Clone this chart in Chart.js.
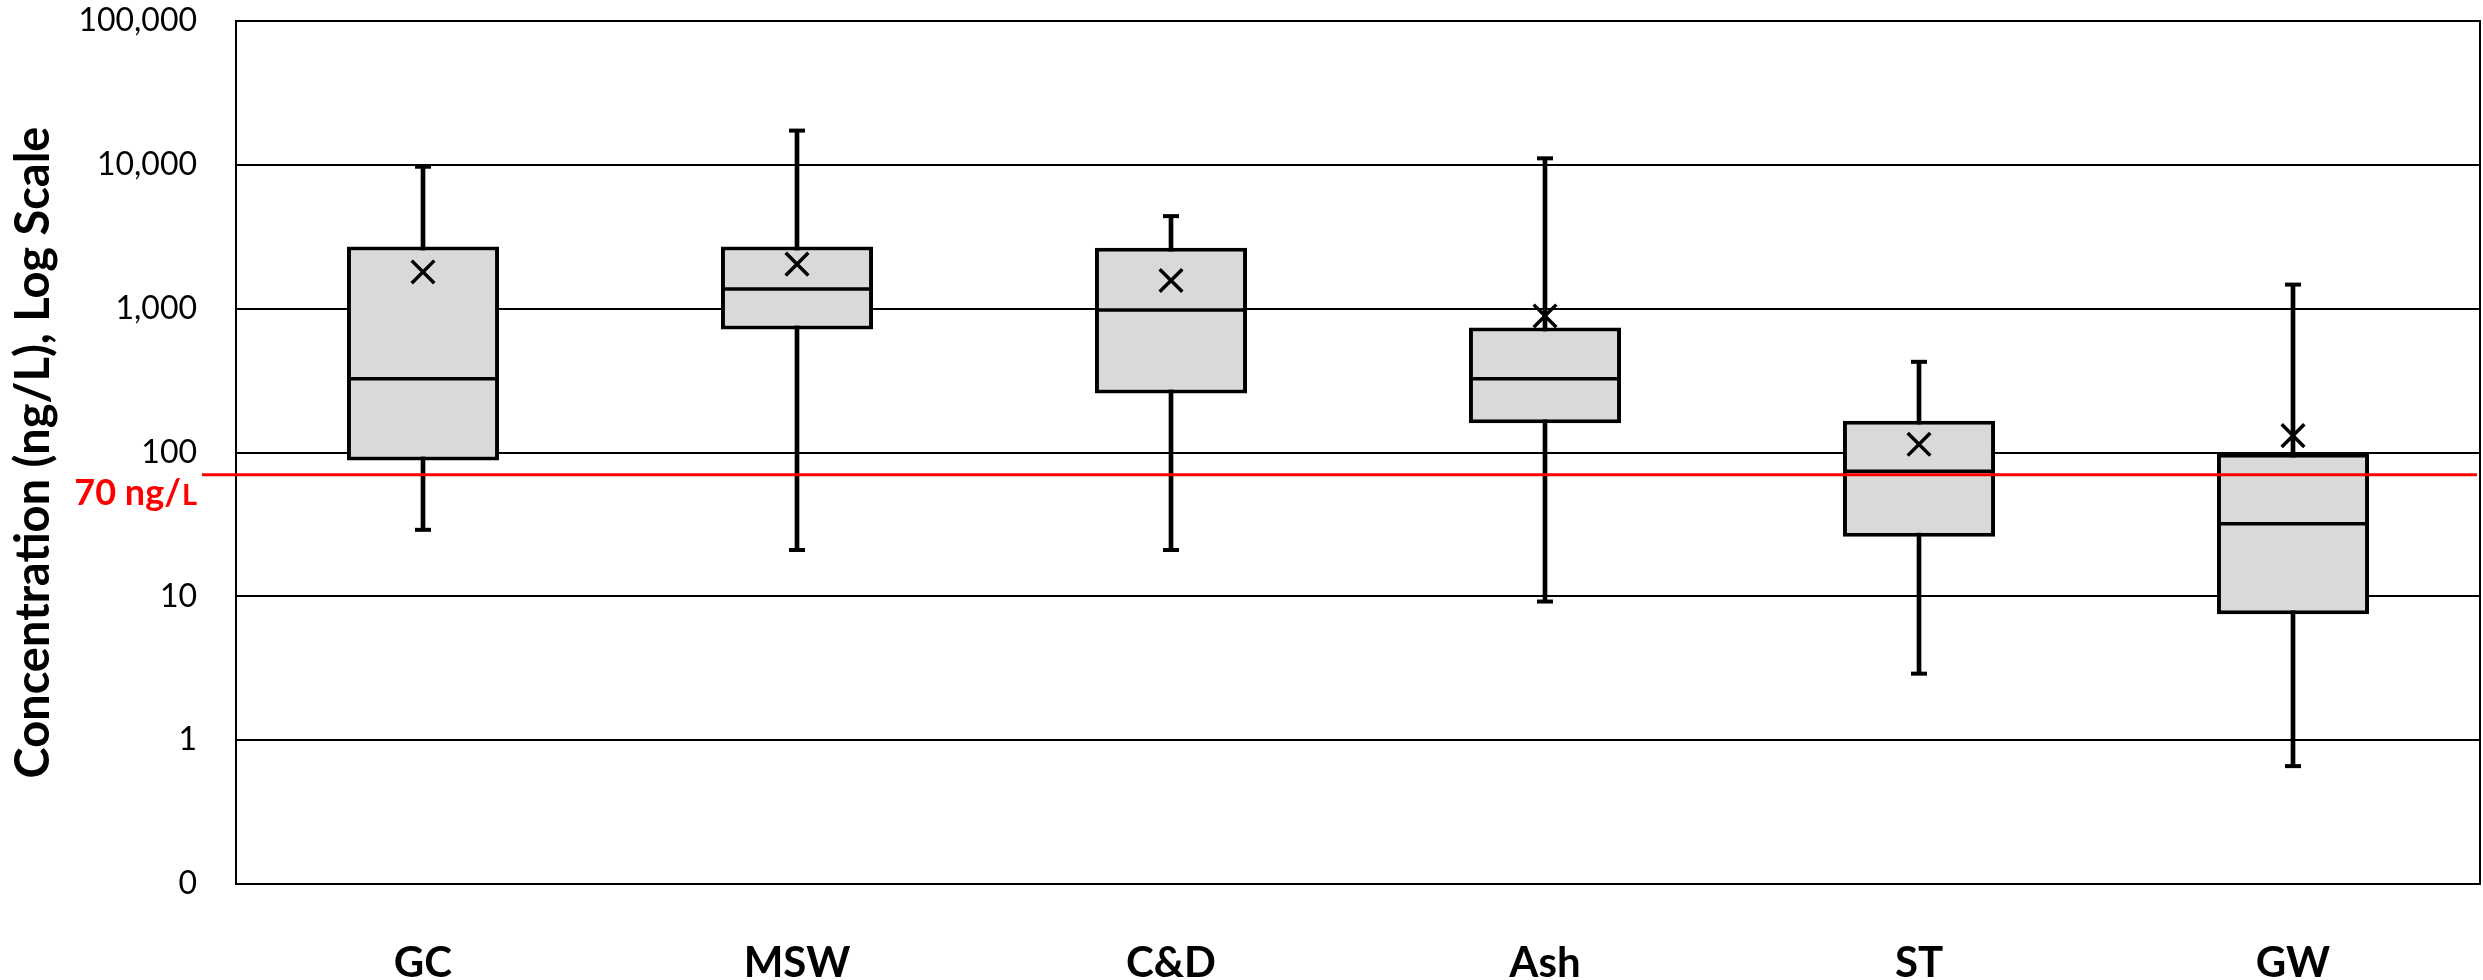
<!DOCTYPE html>
<html><head><meta charset="utf-8">
<script src="https://cdn.jsdelivr.net/npm/chart.js@4.4.1/dist/chart.umd.min.js"></script>
<style>html,body{margin:0;padding:0;background:#fff;} canvas{display:block;}</style>
</head><body>
<canvas id="c" width="2483" height="980"></canvas>
<script>
const categories = ['GC', 'MSW', 'C&D', 'Ash', 'ST', 'GW'];
const minValues = [29, 21, 21, 9.2, 2.9, 0.66];
const q1Values = [88, 715, 257, 160, 26, 7.5];
const medianValues = [325, 1370, 980, 326, 74, 32];
const q3Values = [2700, 2700, 2650, 740, 166, 98];
const maxValues = [9700, 17300, 4400, 11100, 427, 1470];
const meanValues = [1800, 2040, 1570, 890, 114, 131];
const yTickValues = [0.1, 1, 10, 100, 1000, 10000, 100000];
const yTickLabels = ['0', '1', '10', '100', '1,000', '10,000', '100,000'];
const thresholdValue = 70;
const thresholdLabel = ['70 ng/', 'L'];
const yAxisTitle = 'Concentration (ng/L), Log Scale';

const BOX_FRAC = 0.4066;

// Line controller whose large point markers do not push the chart area inward
class MarkerController extends Chart.LineController {
  getMaxOverflow() { return 0; }
}
MarkerController.id = 'marker';
MarkerController.defaults = Chart.LineController.defaults;
Chart.register(MarkerController);

const framePlugin = {
  id: 'frame',
  beforeDatasetsDraw(chart) {
    const {ctx, chartArea: a} = chart;
    ctx.save();
    ctx.strokeStyle = '#000';
    ctx.lineWidth = 2;
    ctx.strokeRect(a.left, a.top, a.right - a.left, a.bottom - a.top);
    ctx.restore();
  },
  afterDatasetsDraw(chart) {
    const {ctx, chartArea: a, scales: {y}} = chart;
    const py = y.getPixelForValue(thresholdValue);
    ctx.save();
    ctx.strokeStyle = '#ff0000';
    ctx.lineWidth = 3;
    ctx.beginPath();
    ctx.moveTo(a.left - 34, py);
    ctx.lineTo(a.right - 3, py);
    ctx.stroke();
    ctx.fillStyle = '#ff0000';
    ctx.textBaseline = 'alphabetic';
    ctx.textAlign = 'left';
    ctx.font = 'bold 29px Lato';
    const wL = ctx.measureText(thresholdLabel[1]).width;
    ctx.font = 'bold 36px Lato';
    const wM = ctx.measureText(thresholdLabel[0]).width;
    const right = a.left - 39;
    const base = py + 30;
    ctx.fillText(thresholdLabel[0], right - wL - wM - 1, base);
    ctx.font = 'bold 29px Lato';
    ctx.fillText(thresholdLabel[1], right - wL, base);
    ctx.restore();
  }
};

const medianRadius = (c) => {
  const ca = c.chart.chartArea;
  if (!ca) return 70;
  return (ca.right - ca.left) / categories.length * BOX_FRAC / 2 - 2;
};

new Chart(document.getElementById('c'), {
  type: 'bar',
  data: {
    labels: categories,
    datasets: [
      {
        type: 'bar', label: 'whisker',
        data: categories.map((_, i) => [minValues[i], maxValues[i]]),
        backgroundColor: '#000', borderWidth: 0, barThickness: 4,
        grouped: false, order: 5
      },
      {
        type: 'bar', label: 'box',
        data: categories.map((_, i) => [q1Values[i], q3Values[i]]),
        backgroundColor: '#d9d9d9', borderColor: '#000', borderWidth: 4,
        borderSkipped: false, barPercentage: BOX_FRAC, categoryPercentage: 1,
        grouped: false, order: 4
      },
      {
        type: 'marker', label: 'median', data: medianValues, showLine: false,
        pointStyle: 'line', pointRadius: medianRadius, pointHoverRadius: 0, pointBorderWidth: 3.5,
        pointBorderColor: '#000', pointBackgroundColor: '#000', order: 3
      },
      {
        type: 'marker', label: 'capMin', data: minValues, showLine: false,
        pointStyle: 'line', pointRadius: 8, pointHoverRadius: 0, pointBorderWidth: 4,
        pointBorderColor: '#000', order: 3
      },
      {
        type: 'marker', label: 'capMax', data: maxValues, showLine: false,
        pointStyle: 'line', pointRadius: 8, pointHoverRadius: 0, pointBorderWidth: 4,
        pointBorderColor: '#000', order: 3
      },
      {
        type: 'marker', label: 'mean', data: meanValues, showLine: false,
        pointStyle: 'crossRot', pointRadius: 16, pointHoverRadius: 0, pointBorderWidth: 3.5,
        pointBorderColor: '#000', order: 1
      }
    ]
  },
  options: {
    responsive: false,
    animation: false,
    events: [],
    layout: {padding: {top: 21, right: 3, left: 0, bottom: 0}},
    plugins: {legend: {display: false}, tooltip: {enabled: false}},
    scales: {
      x: {
        type: 'category', offset: true,
        grid: {display: false}, border: {display: false},
        ticks: {color: '#000', font: {family: 'Lato', size: 42, weight: 'bold'}, padding: 46, maxRotation: 0, autoSkip: false},
        afterFit(s) { s.height = 96; s.paddingLeft = 0; s.paddingRight = 0; }
      },
      y: {
        type: 'logarithmic', min: 0.1, max: 100000,
        afterBuildTicks(s) { s.ticks = yTickValues.map(v => ({value: v})); },
        ticks: {
          autoSkip: false, padding: 39, color: '#000',
          font: {family: 'Lato', size: 32},
          callback: (v) => { const k = yTickValues.indexOf(v); return k >= 0 ? yTickLabels[k] : ''; }
        },
        grid: {color: '#000', lineWidth: 2, drawTicks: false},
        border: {display: false},
        title: {display: true, text: yAxisTitle, color: '#000', font: {family: 'Lato', size: 47, weight: 'bold'}, padding: {top: 6, bottom: 0}},
        afterFit(s) { s.width = 236; s.paddingTop = 0; s.paddingBottom = 0; }
      }
    }
  },
  plugins: [framePlugin]
});
</script>
</body></html>
